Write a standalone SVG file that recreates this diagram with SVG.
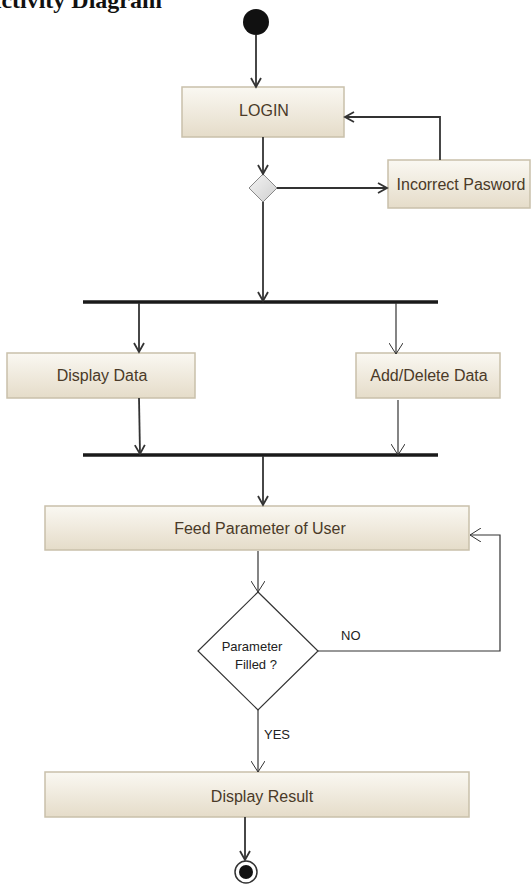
<svg xmlns="http://www.w3.org/2000/svg" width="532" height="885" viewBox="0 0 532 885">
<defs>
<linearGradient id="g" x1="0" y1="0" x2="0" y2="1">
<stop offset="0" stop-color="#faf8f2"/>
<stop offset="1" stop-color="#e5dcc9"/>
</linearGradient>
<linearGradient id="gd" x1="0" y1="0" x2="1" y2="1">
<stop offset="0" stop-color="#f4f4f4"/>
<stop offset="1" stop-color="#cfcfcf"/>
</linearGradient>
<marker id="a" markerWidth="12" markerHeight="12" refX="10" refY="6" orient="auto" markerUnits="userSpaceOnUse">
<path d="M1,1 L10,6 L1,11" fill="none" stroke="#333" stroke-width="1.8"/>
</marker>
<marker id="t" markerWidth="14" markerHeight="14" refX="12" refY="7" orient="auto" markerUnits="userSpaceOnUse">
<path d="M1,0 L12,7 L1,14" fill="none" stroke="#333" stroke-width="1"/>
</marker>
</defs>
<style>
.box{fill:url(#g);stroke:#c9c0aa;stroke-width:1.5}
.lbl{font-family:"Liberation Sans",Arial,sans-serif;font-size:16px;fill:#4a3a28;text-anchor:middle}
.c{fill:none;stroke:#333;stroke-width:1.8}
.ct{fill:none;stroke:#333;stroke-width:1.2}
.bar{stroke:#1a1a1a;stroke-width:3.5}
.g{font-family:"Liberation Sans",Arial,sans-serif;font-size:13px;fill:#222}
</style>
<text x="162" y="8" font-family="'Liberation Serif',serif" font-weight="bold" font-size="24" text-anchor="end" fill="#111">Activity Diagram</text>

<g id="start"><circle cx="256" cy="22" r="13" fill="#111"/></g>
<g id="login"><rect class="box" x="182" y="87" width="162" height="50"/><text class="lbl" x="264" y="116">LOGIN</text></g>
<g id="decision1"><path d="M263,174 L277,188 L263,202 L249,188 Z" fill="url(#gd)" stroke="#888" stroke-width="1"/></g>
<g id="incorrect"><rect class="box" x="388" y="160" width="142" height="48"/><text class="lbl" x="461" y="190">Incorrect Pasword</text></g>
<g id="fork"><line class="bar" x1="83" y1="302" x2="438" y2="302"/></g>
<g id="display"><rect class="box" x="7" y="353" width="188" height="45"/><text class="lbl" x="102" y="381">Display Data</text></g>
<g id="adddelete"><rect class="box" x="356" y="353" width="144" height="45"/><text class="lbl" x="429" y="381">Add/Delete Data</text></g>
<g id="join"><line class="bar" x1="83" y1="455" x2="438" y2="455"/></g>
<g id="feed"><rect class="box" x="45" y="506" width="424" height="44"/><text class="lbl" x="260" y="534">Feed Parameter of User</text></g>
<g id="decision2"><path d="M258,592 L318,651 L258,710 L198,651 Z" fill="#fff" stroke="#333" stroke-width="1.2"/>
<text class="g" x="252" y="651" text-anchor="middle" font-size="12">Parameter</text>
<text class="g" x="256" y="669" text-anchor="middle" font-size="12">Filled ?</text></g>
<g id="result"><rect class="box" x="45" y="772" width="424" height="45"/><text class="lbl" x="262" y="802">Display Result</text></g>
<g id="end"><circle cx="246" cy="872" r="11" fill="#fff" stroke="#333" stroke-width="1.5"/><circle cx="246" cy="872" r="7" fill="#111"/></g>

<g id="connectors">
<line class="c" x1="256" y1="35" x2="256" y2="87" marker-end="url(#a)"/>
<polyline class="c" points="440,160 440,117 345,117" marker-end="url(#a)"/>
<line class="c" x1="263" y1="137" x2="263" y2="174" marker-end="url(#a)"/>
<line class="c" x1="277" y1="188" x2="387" y2="188" marker-end="url(#a)"/>
<line class="c" x1="263" y1="202" x2="263" y2="301" marker-end="url(#a)"/>
<line class="c" x1="139" y1="303" x2="139" y2="352" marker-end="url(#a)"/>
<line class="ct" x1="396" y1="303" x2="396" y2="354" marker-end="url(#t)"/>
<line class="c" x1="139" y1="398" x2="140" y2="454" marker-end="url(#a)"/>
<line class="ct" x1="398" y1="400" x2="398" y2="455" marker-end="url(#t)"/>
<line class="c" x1="263" y1="456" x2="263" y2="505" marker-end="url(#a)"/>
<line class="ct" x1="258" y1="551" x2="258" y2="592" marker-end="url(#t)"/>
<polyline class="ct" points="318,651 500,651 500,535 470,535" marker-end="url(#t)"/>
<line class="ct" x1="258" y1="710" x2="258" y2="772" marker-end="url(#t)"/>
<line class="c" x1="245" y1="817" x2="245" y2="860" marker-end="url(#a)"/>
</g>
<text class="g" x="341" y="640">NO</text>
<text class="g" x="264" y="739">YES</text>
</svg>
